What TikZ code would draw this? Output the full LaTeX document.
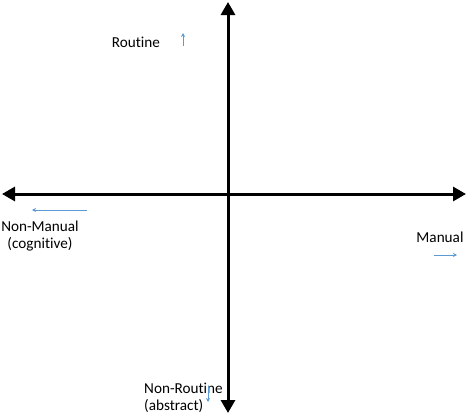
\documentclass[tikz,border=0pt]{standalone}
\usepackage{fontspec}
\setmainfont{Carlito}[Ligatures={NoCommon}]
\usetikzlibrary{arrows.meta}
\definecolor{officeblue}{RGB}{91,155,213}
\begin{document}
\begin{tikzpicture}[x=1pt,y=-1pt,
  axis/.style={line width=3pt,-{Triangle[length=13pt,width=14pt]}},
  hint/.style={officeblue,line width=0.9pt,-{Stealth[length=4pt,width=4pt]}},
  lbl/.style={font=\fontsize{15.2}{17.5}\selectfont,inner sep=0pt,align=center}]
\useasboundingbox (0,0) rectangle (467,415);
% axes
\coordinate (center) at (228,194);
\coordinate (top) at (228,2);
\coordinate (bottom) at (228,413);
\coordinate (left) at (2,194);
\coordinate (right) at (466,194);
\draw[axis] (center) -- (top);
\draw[axis] (center) -- (bottom);
\draw[axis] (center) -- (left);
\draw[axis] (center) -- (right);
% labels
\node[lbl] (routine) at (136,42) {Routine};
\node[lbl] (nonmanual) at (40,236) {Non-Manual\\(cognitive)};
\node[lbl] (manual) at (440,237) {Manual};
\node[lbl,align=left,anchor=west] (nonroutine) at (144,398) {Non-Routine\\(abstract)};
% small blue arrows
\coordinate (r1) at (183,46); \coordinate (r2) at (183,33);
\coordinate (n1) at (87,210); \coordinate (n2) at (32,210);
\coordinate (m1) at (434,255); \coordinate (m2) at (457,255);
\coordinate (d1) at (208,386); \coordinate (d2) at (208,402);
\draw[hint] (r1) -- (r2);
\draw[hint] (n1) -- (n2);
\draw[hint] (m1) -- (m2);
\draw[hint] (d1) -- (d2);
\end{tikzpicture}
\end{document}
